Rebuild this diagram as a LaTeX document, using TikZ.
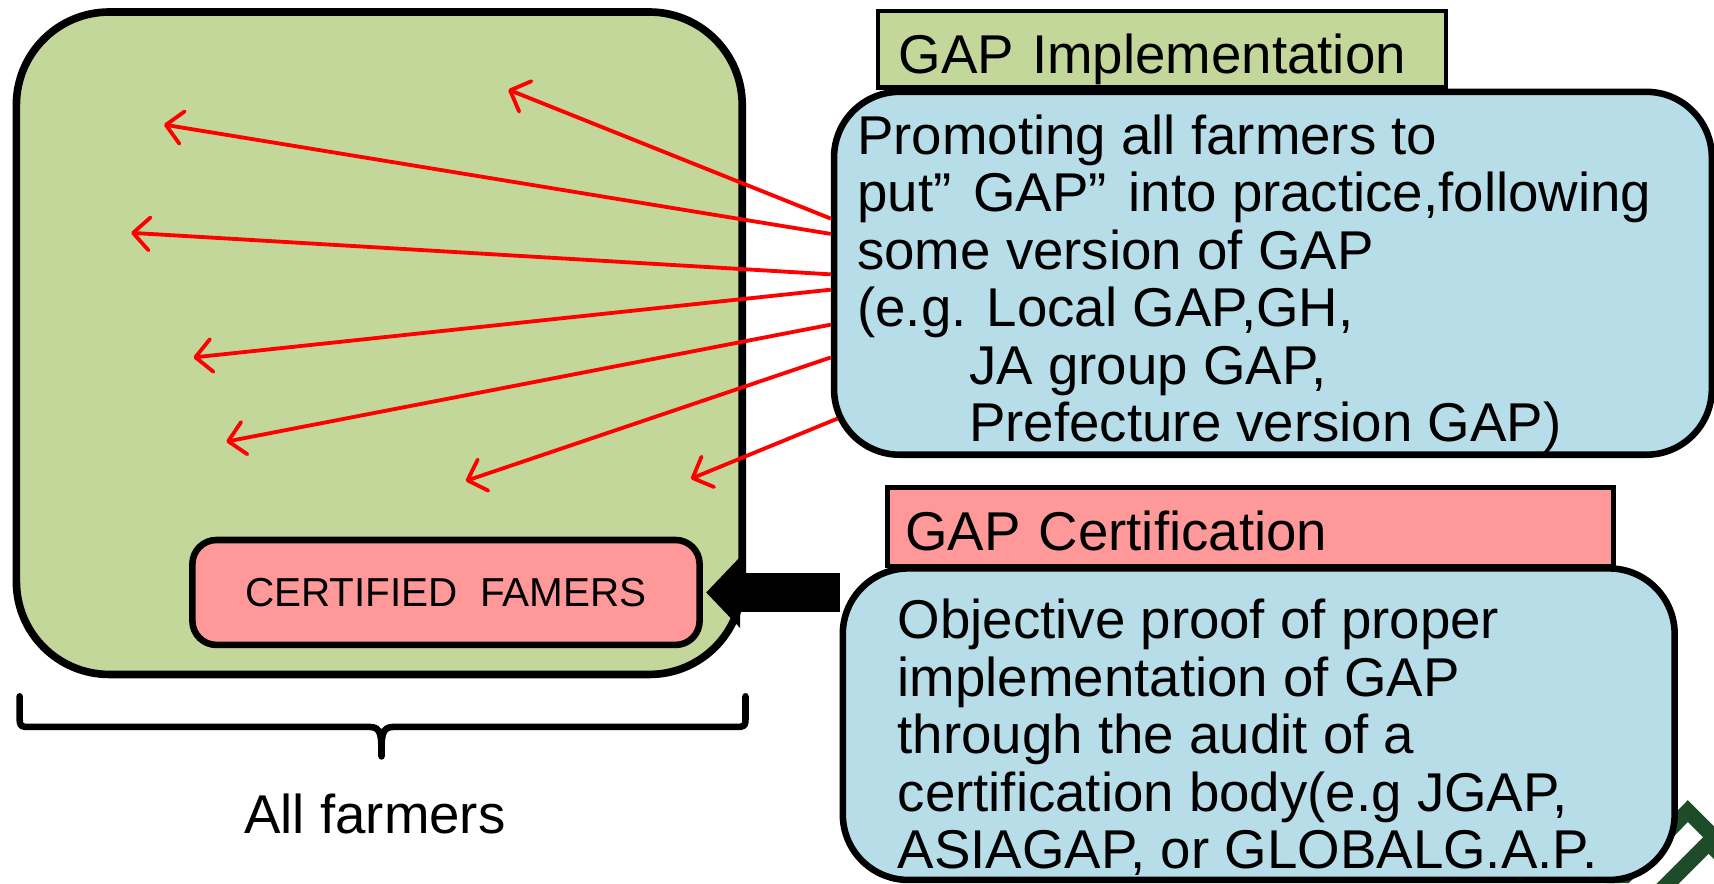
\documentclass[tikz,border=0pt]{standalone}
\usepackage{fontspec}
\setmainfont{Liberation Sans}
\usetikzlibrary{arrows.meta,calc}
\definecolor{farmgreen}{RGB}{196,215,155}
\definecolor{gapblue}{RGB}{183,221,232}
\definecolor{gappink}{RGB}{255,153,153}
\definecolor{logogreen}{RGB}{30,76,40}
\tikzstyle{farmbox}=[draw, line width=7pt, fill=farmgreen, rounded corners=85pt, inner sep=0pt]
\tikzstyle{gapbox}=[draw, line width=6pt, fill=gapblue, rounded corners=60pt, inner sep=0pt]
\tikzstyle{headbox}=[draw, line width=4pt, inner ysep=0pt, align=left, text height=44pt, text depth=0pt, font=\fontsize{50}{52.5}\selectfont]
\tikzstyle{bodytext}=[align=left, inner sep=0pt, font=\fontsize{50}{52.5}\selectfont]
\tikzstyle{promote}=[red, line width=3.5pt, -{Straight Barb[length=15pt,width=30pt,round]}]

\begin{document}
\begin{tikzpicture}[x=1pt, y=1pt]
\useasboundingbox (0,0) rectangle (1568,808);
% Logo corner
\begin{scope}
  \clip (0,0) rectangle (1568,808);
  \fill[logogreen] (1470,0) -- (1544,76) -- (1620,0) -- (1600,0) -- (1544,56) -- (1490,0) -- cycle;
  \fill[logogreen] (1500,-16) -- (1563,47) -- (1626,-16) -- (1606,-16) -- (1563,27) -- (1520,-16) -- cycle;
\end{scope}
% All farmers
\node[farmbox, minimum width=664pt, minimum height=606pt] (farmers) at (347,494) {};
\node[draw, line width=6pt, fill=gappink, rounded corners=22pt, minimum width=464pt, minimum height=96pt,
      font=\fontsize{37}{40}\selectfont] (certified) at (408,266) {CERTIFIED\ \ FAMERS};
% GAP Implementation
\node[headbox, fill=farmgreen, inner xsep=19pt, text width=482pt, minimum height=70pt] (implhead) at (1063,763) {GAP Implementation};
\node[gapbox, minimum width=803pt, minimum height=332pt] (impl) at (1164.5,558) {};
\node[bodytext, anchor=north west] (impltext) at ([xshift=24pt, yshift=-24pt]impl.north west)
  {Promoting all farmers to\\
   put”\hspace{0.4em}GAP”\hspace{0.4em}into practice,following\\
   some version of GAP\\
   (e.g. Local GAP,GH,\\
   \hspace{2.05em}JA group GAP,\\
   \hspace{2.05em}Prefecture version GAP)};
% Arrows to the farmers
\coordinate (t1) at (465,726);
\coordinate (t2) at (150,694);
\coordinate (t3) at (120,595);
\coordinate (t4) at (177,481);
\coordinate (t5) at (207,404);
\coordinate (t6) at (426,368);
\coordinate (t7) at (632,370);
\draw[promote] ([yshift=50pt]impl.west) -- (t1);
\draw[promote] ([yshift=36pt]impl.west) -- (t2);
\draw[promote] ([yshift=-1pt]impl.west) -- (t3);
\draw[promote] ([yshift=-15pt]impl.west) -- (t4);
\draw[promote] ([yshift=-47pt]impl.west) -- (t5);
\draw[promote] ([yshift=-77pt]impl.west) -- (t6);
\draw[promote] ([xshift=6pt, yshift=-133pt]impl.west) -- (t7);
% GAP Certification
\node[headbox, fill=gappink, inner xsep=16pt, text width=632pt, minimum height=72pt] (certhead) at (1144,326) {GAP Certification};
\node[gapbox, minimum width=761pt, minimum height=285pt] (cert) at (1151.5,145.5) {};
\node[bodytext, anchor=north west] (certtext) at ([xshift=53pt, yshift=-31pt]cert.north west)
  {Objective proof of proper\\
   implementation of GAP\\
   through the audit of a\\
   certification body(e.g JGAP,\\
   ASIAGAP, or GLOBALG.A.P.};
\draw[line width=35pt, -{Triangle[length=31pt, width=63pt]}] (certified.east -| cert.west) -- ([xshift=3pt]certified.east);
% Brace
\draw[line width=6pt, line cap=round, line join=round] (18,171) -- (18,153) .. controls (18,143) .. (28,143) -- (338,143)
  .. controls (349,143) and (349,135) .. (349,116) .. controls (349,135) and (349,143) .. (360,143) -- (672,143)
  .. controls (682,143) .. (682,153) -- (682,171);
\node[font=\fontsize{50}{52.5}\selectfont] (allfarmers) at (343,63) {All farmers};
\end{tikzpicture}
\end{document}
